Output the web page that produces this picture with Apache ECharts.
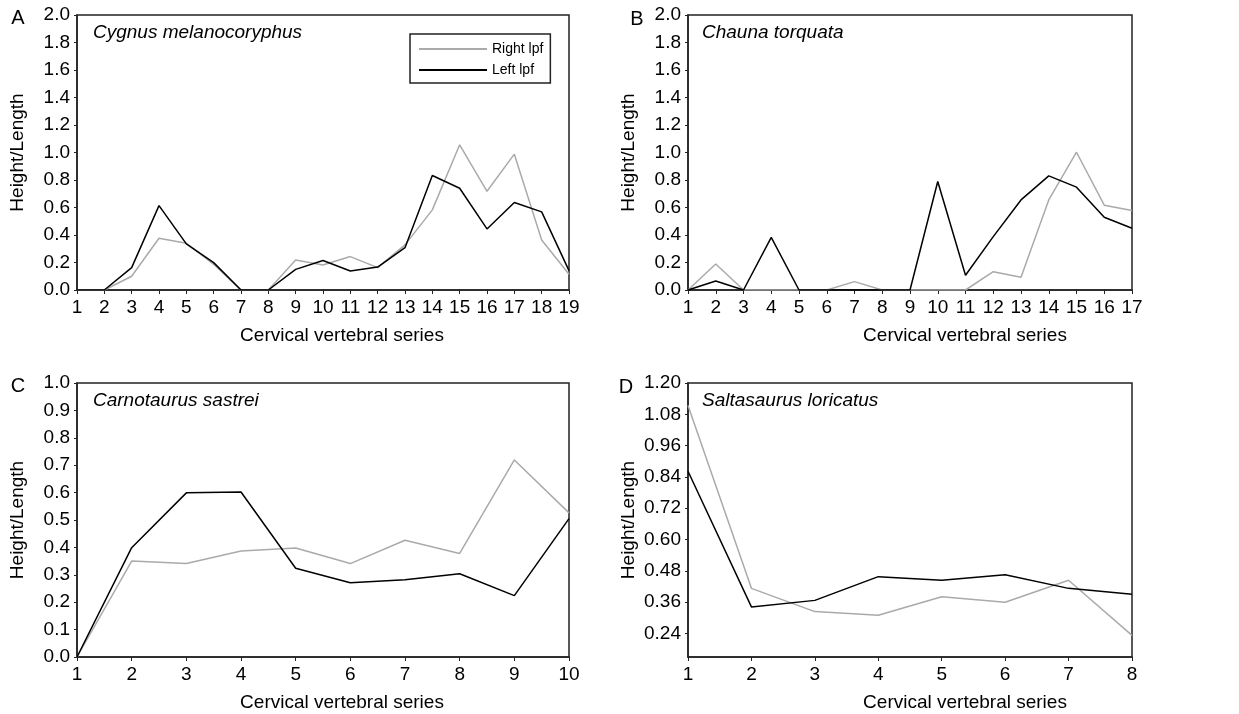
<!DOCTYPE html>
<html>
<head>
<meta charset="utf-8">
<script src="https://cdn.jsdelivr.net/npm/echarts@6/dist/echarts.min.js"></script>
<style>
html,body{margin:0;padding:0;background:#fff;}
#chart{width:1239px;height:714px;}
</style>
</head>
<body>
<div id="chart"></div>
<script>
// ---- Data ----
const vertebraeA = [1,2,3,4,5,6,7,8,9,10,11,12,13,14,15,16,17,18,19];
const rightA = [0,0,0.10,0.376,0.34,0.187,0,0,0.218,0.182,0.243,0.163,0.328,0.583,1.056,0.718,0.988,0.364,0.114];
const leftA  = [0,0,0.163,0.614,0.335,0.199,0,0,0.150,0.214,0.138,0.167,0.308,0.833,0.740,0.444,0.636,0.568,0.141];

const vertebraeB = [1,2,3,4,5,6,7,8,9,10,11,12,13,14,15,16,17];
const rightB = [0,0.189,0,0,0,0,0.061,0,0,0,0,0.133,0.092,0.655,1.002,0.617,0.578];
const leftB  = [0,0.066,0,0.383,0,0,0,0,0,0.789,0.107,0.388,0.655,0.830,0.748,0.529,0.449];

const vertebraeC = [1,2,3,4,5,6,7,8,9,10];
const rightC = [0,0.350,0.341,0.387,0.398,0.341,0.426,0.378,0.719,0.526];
const leftC  = [0,0.399,0.599,0.602,0.324,0.271,0.282,0.304,0.224,0.505];

const vertebraeD = [1,2,3,4,5,6,7,8];
const rightD = [1.114,0.413,0.324,0.310,0.381,0.360,0.444,0.233];
const leftD  = [0.862,0.342,0.367,0.458,0.444,0.465,0.413,0.390];
const ticksD = [0.24,0.36,0.48,0.60,0.72,0.84,0.96,1.08,1.20];

const panelLetters = ['A','B','C','D'];
const species = ['Cygnus melanocoryphus','Chauna torquata','Carnotaurus sastrei','Saltasaurus loricatus'];
const xName = 'Cervical vertebral series';
const yName = 'Height/Length';
const seriesNames = ['Right lpf','Left lpf'];

// ---- Layout ----
const FONT = '"Liberation Sans", Arial, sans-serif';
const grids = [
  {left:77, top:15, width:492, height:275},
  {left:688, top:15, width:444, height:275},
  {left:77, top:383, width:492, height:274},
  {left:688, top:383, width:444, height:274}
];
const namePadLeft = [38, 110, 38, 110];
const panels = [
  {x:vertebraeA, r:rightA, l:leftA, min:0, max:2, interval:0.2, dec:1},
  {x:vertebraeB, r:rightB, l:leftB, min:0, max:2, interval:0.2, dec:1},
  {x:vertebraeC, r:rightC, l:leftC, min:0, max:1, interval:0.1, dec:1},
  {x:vertebraeD, r:rightD, l:leftD, min:0.15, max:1.2, custom:ticksD, dec:2}
];
const AX = '#222';

const option = {
  animation:false,
  backgroundColor:'#fff',
  textStyle:{fontFamily:FONT},
  grid: grids.map(g => Object.assign({show:true, borderColor:AX, borderWidth:1.5, backgroundColor:'transparent', containLabel:false}, g)),
  xAxis: panels.map((p,i) => ({
    type:'value', gridIndex:i, min:p.x[0], max:p.x[p.x.length-1], interval:1,
    name:xName, nameLocation:'middle', nameGap:36,
    nameTextStyle:{fontSize:19, color:'#000', fontFamily:FONT, padding:[0,0,0,namePadLeft[i]]},
    axisLine:{show:true, onZero:false, lineStyle:{color:AX, width:1.5}},
    axisTick:{show:true, inside:false, length:4, lineStyle:{color:AX, width:1}},
    axisLabel:{fontSize:19, color:'#000', margin:8, fontFamily:FONT},
    splitLine:{show:false}
  })),
  yAxis: panels.map((p,i) => {
    const ax = {
      type:'value', gridIndex:i, min:p.min, max:p.max,
      name:yName, nameLocation:'middle', nameGap:50,
      nameTextStyle:{fontSize:19, color:'#000', fontFamily:FONT},
      axisLine:{show:true, onZero:false, lineStyle:{color:AX, width:1.5}},
      axisTick:{show:true, inside:false, length:3, lineStyle:{color:AX, width:1}},
      axisLabel:{fontSize:19, color:'#000', margin:7, fontFamily:FONT,
        formatter: v => Number(v).toFixed(p.dec)},
      splitLine:{show:false}
    };
    if (p.custom) {
      ax.axisTick.customValues = p.custom;
      ax.axisLabel.customValues = p.custom;
    } else {
      ax.interval = p.interval;
    }
    return ax;
  }),
  legend: {
    show:true, orient:'vertical', left:410, top:34,
    padding:[8,7,6,8], itemGap:7, itemWidth:68, itemHeight:14,
    borderColor:'#222', borderWidth:1.5, backgroundColor:'#fff',
    itemStyle:{opacity:0},
    textStyle:{fontSize:14, color:'#000', fontFamily:FONT},
    data: seriesNames
  },
  series: [],
  graphic: []
};

panels.forEach((p,i) => {
  option.series.push({
    name:seriesNames[0], type:'line', xAxisIndex:i, yAxisIndex:i, symbol:'none',
    lineStyle:{color:'#aaaaaa', width:1.5}, itemStyle:{color:'#aaaaaa'},
    data: p.x.map((x,k)=>[x, p.r[k]]), z:2
  });
  option.series.push({
    name:seriesNames[1], type:'line', xAxisIndex:i, yAxisIndex:i, symbol:'none',
    lineStyle:{color:'#000', width:1.5}, itemStyle:{color:'#000'},
    data: p.x.map((x,k)=>[x, p.l[k]]), z:3
  });
});

const letterPos = [[18,18],[637,19],[18,386],[626,387]];
const speciesPos = [[93,33],[702,33],[93,401],[702,401]];
panelLetters.forEach((t,i) => {
  option.graphic.push({type:'text', x:letterPos[i][0], y:letterPos[i][1], z:10,
    style:{text:t, fontSize:20, fill:'#000', fontFamily:FONT, align:'center', verticalAlign:'middle'}});
  option.graphic.push({type:'text', x:speciesPos[i][0], y:speciesPos[i][1], z:10,
    style:{text:species[i], fontSize:19, fontStyle:'italic', fill:'#000', fontFamily:FONT, align:'left', verticalAlign:'middle'}});
});

const chart = echarts.init(document.getElementById('chart'), null, {renderer:'canvas'});
chart.setOption(option);
</script>
</body>
</html>
